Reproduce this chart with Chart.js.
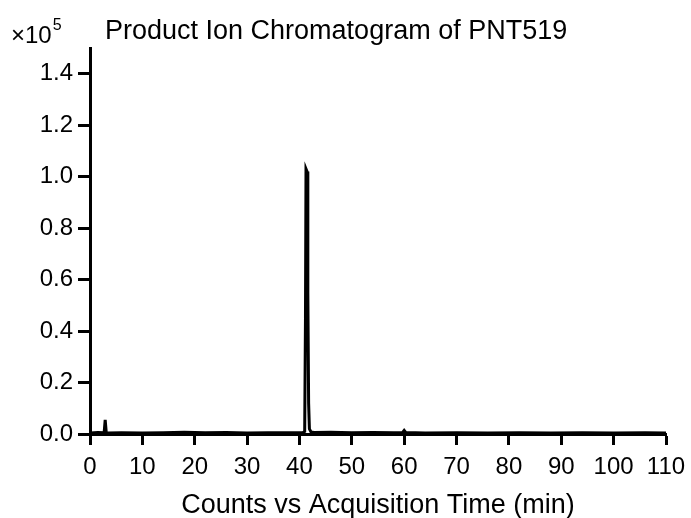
<!DOCTYPE html>
<html>
<head>
<meta charset="utf-8">
<script src="https://cdn.jsdelivr.net/npm/chart.js@4/dist/chart.umd.min.js"></script>
<style>
  html, body { margin: 0; padding: 0; background: #fff; }
</style>
</head>
<body>
<canvas id="chrom" width="691" height="518"></canvas>
<script>
// acquisition time (min) and counts (x10^5)
const times = [0, 1.5, 2.7, 2.9, 3.1, 3.4, 6, 10, 14, 18, 22, 26, 30, 34, 38, 40.7,
  41.0, 41.15, 41.25, 41.45, 41.6, 41.75, 41.9, 42.2, 42.8, 46, 50, 54, 58,
  59.7, 60.0, 60.3, 64, 70, 76, 82, 88, 94, 100, 106, 110];
const counts = [0.004, 0.006, 0.005, 0.055, 0.006, 0.004, 0.005, 0.004, 0.005, 0.007, 0.005, 0.006, 0.004, 0.005, 0.005, 0.006,
  0.01, 0.45, 1.03, 1.02, 0.55, 0.12, 0.02, 0.008, 0.006, 0.007, 0.005, 0.006, 0.005,
  0.006, 0.014, 0.006, 0.004, 0.005, 0.004, 0.005, 0.004, 0.005, 0.004, 0.005, 0.004];
const xTicks = [0, 10, 20, 30, 40, 50, 60, 70, 80, 90, 100, 110];
const yTicks = [0.0, 0.2, 0.4, 0.6, 0.8, 1.0, 1.2, 1.4];

const FONT = "'Liberation Sans', Arial, sans-serif";

// header line: multiplier at top-left and the plot title
const headerText = {
  id: 'headerText',
  afterDraw(chart) {
    const ctx = chart.ctx;
    ctx.save();
    ctx.fillStyle = '#000';
    ctx.textBaseline = 'alphabetic';
    ctx.font = '24px ' + FONT;
    ctx.fillText('\u00d710', 11, 43);
    const w = ctx.measureText('\u00d710').width;
    ctx.font = '16px ' + FONT;
    ctx.fillText('5', 11 + w + 1, 30);
    ctx.font = '27px ' + FONT;
    ctx.fillText('Product Ion Chromatogram of PNT519', 105, 39);
    ctx.restore();
  }
};

new Chart(document.getElementById('chrom'), {
  type: 'line',
  data: {
    datasets: [{
      data: times.map((t, i) => ({ x: t, y: counts[i] })),
      borderColor: '#000',
      borderWidth: 3,
      pointRadius: 0,
      tension: 0,
      fill: false
    }]
  },
  options: {
    responsive: false,
    animation: false,
    devicePixelRatio: 1,
    layout: { padding: { top: 48, right: 25, left: 0, bottom: 0 } },
    plugins: { legend: { display: false }, tooltip: { enabled: false } },
    scales: {
      x: {
        type: 'linear',
        min: 0,
        max: 110,
        afterBuildTicks: s => { s.ticks = xTicks.map(v => ({ value: v })); },
        afterFit: s => { s.height = 84; s.paddingLeft = 0; s.paddingRight = 0; },
        border: { display: true, color: '#000', width: 3 },
        grid: { drawOnChartArea: false, drawTicks: true, tickLength: 11, tickWidth: 3, tickColor: '#000' },
        ticks: { color: '#000', font: { family: FONT, size: 24 }, padding: 8, maxRotation: 0, autoSkip: false },
        title: { display: true, text: 'Counts vs Acquisition Time (min)', color: '#000',
                 font: { family: FONT, size: 27 }, padding: { top: 0, bottom: -4 } }
      },
      y: {
        type: 'linear',
        min: 0,
        max: 1.5,
        afterBuildTicks: s => { s.ticks = yTicks.map(v => ({ value: v })); },
        afterFit: s => { s.width = 90; },
        border: { display: true, color: '#000', width: 3 },
        grid: { drawOnChartArea: false, drawTicks: true, tickLength: 12, tickWidth: 3, tickColor: '#000' },
        ticks: { color: '#000', font: { family: FONT, size: 24 }, padding: 5, autoSkip: false,
                 callback: v => v.toFixed(1) }
      }
    }
  },
  plugins: [headerText]
});
</script>
</body>
</html>
